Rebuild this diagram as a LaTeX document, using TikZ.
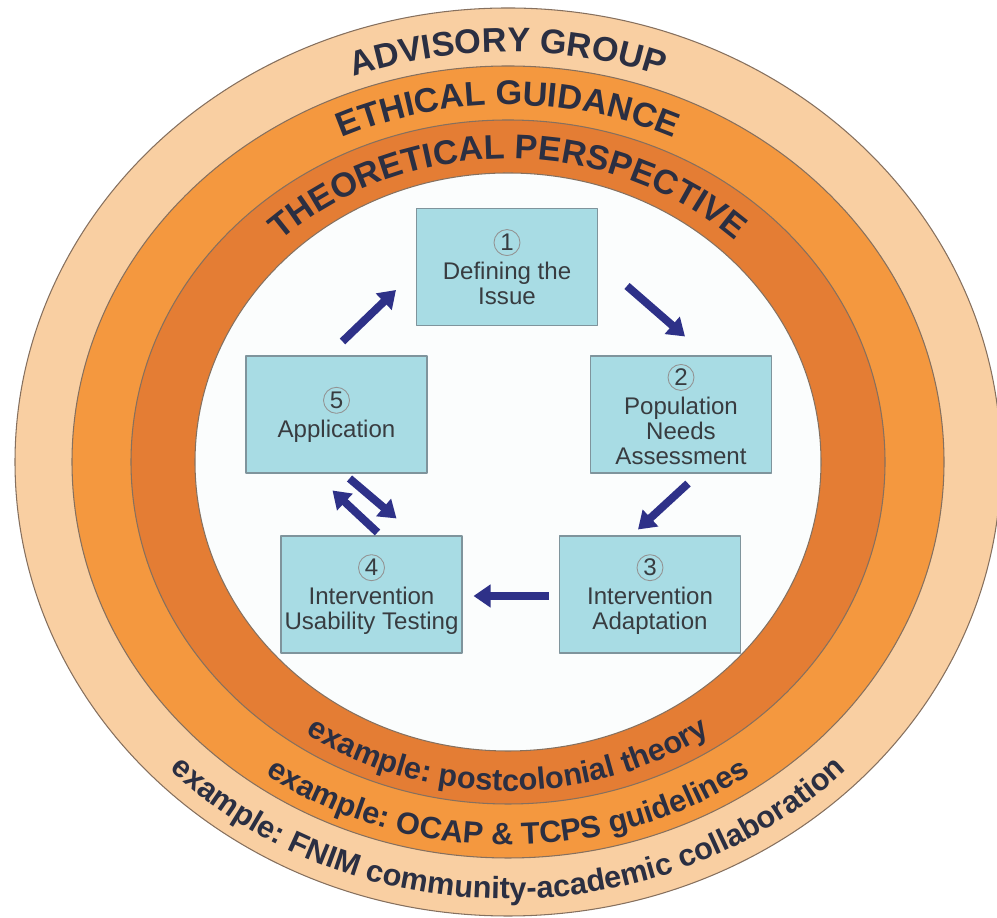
\documentclass[tikz,border=0pt]{standalone}
\usepackage{fontspec}
\setmainfont{Liberation Sans}
\usetikzlibrary{arrows.meta, calc}
\usetikzlibrary{decorations.text}

\definecolor{peach}{HTML}{F9CFA2}
\definecolor{midorange}{HTML}{F4983F}
\definecolor{darkorange}{HTML}{E47D34}
\definecolor{innerwhite}{HTML}{FBFDFD}
\definecolor{boxfill}{HTML}{A8DCE4}
\definecolor{boxline}{HTML}{7F949C}
\definecolor{ringline}{HTML}{86705E}
\definecolor{ringtext}{HTML}{2B2F42}
\definecolor{boxtext}{HTML}{383C40}
\definecolor{navy}{HTML}{2E3188}

% circled step number inside a box
\newcommand{\numc}[1]{\tikz[baseline=(nc.base)]\node[draw=gray!85, circle, line width=0.5pt,
	inner sep=0pt, minimum size=0.52cm] (nc) {#1};}

\begin{document}
\begin{tikzpicture}[x=0.02cm, y=0.02cm, >=Latex, line join=round,
	ring/.style={draw=ringline, line width=0.6pt},
	box/.style={draw=boxline, fill=boxfill, line width=0.6pt, minimum width=3.62cm,
		minimum height=2.34cm, align=center, text=boxtext, inner sep=1pt,
		font=\fontsize{13.7}{14.3}\selectfont},
	flow/.style={navy, line width=4.5pt, -{Triangle[length=0.34cm, width=0.44cm]}},
	ringtop/.style={decorate, decoration={text along path, text align=center,
		text color=ringtext, text={|\bfseries\fontsize{19.5}{22}\selectfont|#1}}},
	ringbot/.style={decorate, decoration={text along path, text align=center,
		text color=ringtext, text={|\bfseries\fontsize{17.5}{20}\selectfont|#1}}}]

\useasboundingbox (0,0) rectangle (997,918);

%========================
% Rings
%========================
\draw[ring, fill=peach] (508,456) ellipse[x radius=493, y radius=454];
\draw[ring, fill=midorange] (508,456) ellipse[x radius=436, y radius=396];
\draw[ring, fill=darkorange] (508,456) ellipse[x radius=377, y radius=342];
\draw[ring, fill=innerwhite] (508,456) ellipse[x radius=313, y radius=289];

% ring titles (top)
\path[ringtop={ADVISORY GROUP}] (56,456) arc[start angle=180, end angle=0, x radius=452, y radius=410];
\path[ringtop={ETHICAL GUIDANCE}] (114,456) arc[start angle=180, end angle=0, x radius=394, y radius=357];
\path[ringtop={THEORETICAL PERSPECTIVE}] (175,456) arc[start angle=180, end angle=0, x radius=333, y radius=303];

% ring examples (bottom)
\path[ringbot={example: postcolonial theory}] (150,456) arc[start angle=180, end angle=360, x radius=358, y radius=329];
\path[ringbot={example: OCAP {\&} TCPS guidelines}] (88,456) arc[start angle=180, end angle=360, x radius=420, y radius=383];
\path[ringbot={example: FNIM community-academic collaboration}] (31,456) arc[start angle=180, end angle=360, x radius=477, y radius=437];

%========================
% Steps
%========================
\node[box] (b1) at (507,651) {\numc{1}\\[2pt]Defining the\\Issue};
\node[box] (b2) at (681,503.5) {\numc{2}\\[2pt]Population\\Needs\\Assessment};
\node[box] (b3) at (650,323.5) {\numc{3}\\[2pt]Intervention\\Adaptation};
\node[box] (b4) at (371.5,323.5) {\numc{4}\\[2pt]Intervention\\Usability Testing};
\node[box] (b5) at (336.5,503.5) {\numc{5}\\[2pt]Application};

% arrows between steps
\draw[flow] ($(b5.north)+(6,14)$) -- ($(b1.west)+(-20,-23)$);
\draw[flow] ($(b1.east)+(29,-19)$) -- ($(b2.north)+(4,19)$);
\draw[flow] ($(b2.south)+(7,-10)$) -- ($(b3.north)+(-12,6)$);
\draw[flow] ($(b3.west)+(-10,-1.5)$) -- ($(b4.east)+(11,-1.5)$);
\draw[flow] ($(b5.south)+(13,-5)$) -- ($(b4.north)+(25,17)$);
\draw[flow] ($(b4.north)+(6,3)$) -- ($(b5.south)+(-4,-17)$);

\end{tikzpicture}
\end{document}
